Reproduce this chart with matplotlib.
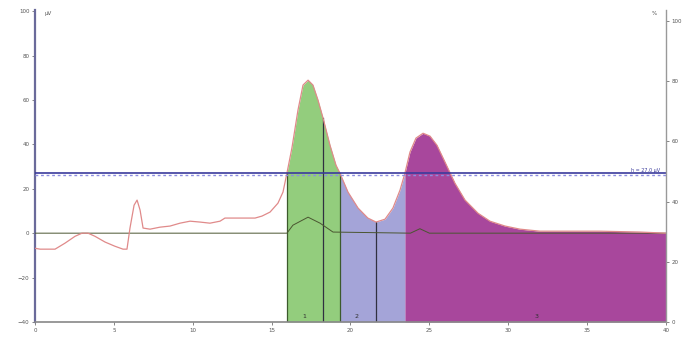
import matplotlib
matplotlib.use("Agg")
import matplotlib.pyplot as plt
import numpy as np

""" Data (read off the chromatogram) """
# time in minutes, signal in uV
t = [0.0, 0.32, 1.27, 1.9, 2.54, 2.98, 3.36, 3.8, 4.44, 5.07, 5.58, 5.83,
     6.02, 6.28, 6.47, 6.66, 6.85, 7.29, 7.92, 8.56, 9.19, 9.83, 10.46,
     11.09, 11.73, 12.04, 12.36, 13.95, 14.39, 14.9, 15.4, 15.72, 15.97,
     16.29, 16.67, 16.99, 17.31, 17.62, 17.94, 18.26, 18.7, 19.08, 19.33,
     19.84, 20.48, 21.1, 21.62, 22.19, 22.69, 23.14, 23.45, 23.77, 24.15,
     24.6, 25.04, 25.48, 25.99, 26.62, 27.26, 28.08, 28.84, 29.8, 30.75,
     32.0, 35.8, 38.35, 40.0]
signal = [-6.8, -7.2, -7.2, -4.5, -1.4, 0.0, 0.0, -1.4, -4.0, -5.9, -7.2, -7.2,
          2.3, 12.6, 14.9, 10.4, 2.3, 1.8, 2.7, 3.2, 4.5, 5.4, 5.0,
          4.5, 5.4, 6.8, 6.8, 6.8, 7.7, 9.5, 13.5, 18.5, 27.0,
          38.5, 55.4, 66.7, 68.9, 66.7, 59.9, 51.8, 39.6, 30.6, 27.0,
          18.5, 11.3, 6.8, 5.0, 6.3, 11.3, 19.4, 27.0, 36.5, 42.8,
          45.0, 43.7, 39.6, 32.0, 22.5, 14.9, 9.0, 5.4, 3.2, 1.8,
          0.9, 0.9, 0.5, 0.0]

# second trace (thin dark line)
t2 = [0.0, 15.97, 16.35, 17.31, 18.07, 18.89, 23.8, 24.4, 25.0, 40.0]
trace2 = [0.0, 0.0, 3.6, 7.2, 4.5, 0.5, 0.0, 2.0, 0.0, 0.0]

threshold = 27.0
threshold_label = "h = 27.0 \u00b5V"

# peak windows (start, apex split, end) and labels
regions = [(15.97, 19.33), (19.33, 23.45), (23.45, 40.0)]
region_colors = ["#93cd7d", "#a4a4d8", "#a8479c"]
splits = [18.26, 21.62]
peak_names = ["1", "2", "3"]
peak_pos = [17.1, 20.4, 31.8]

x_ticks = [0, 5, 10, 15, 20, 25, 30, 35, 40]
y_ticks = [-40, -20, 0, 20, 40, 60, 80, 100]
y2_ticks = [0, 20, 40, 60, 80, 100]

""" Plot """
t = np.array(t)
signal = np.array(signal)

fig = plt.figure(figsize=(6.92, 3.45), dpi=100)
ax = fig.add_axes([0.0506, 0.0667, 0.9118, 0.9043])
ax.set_xlim(0, 40)
ax.set_ylim(-40, 100.5)

for (a, b), c in zip(regions, region_colors):
    m = (t >= a) & (t <= b)
    ax.fill_between(t[m], -40, signal[m], color=c, lw=0, zorder=1)

for x in [regions[0][0], regions[0][1]]:
    ax.plot([x, x], [-40, np.interp(x, t, signal)], color="#3c5a2c", lw=0.9, zorder=2)
for x in splits:
    ax.plot([x, x], [-40, np.interp(x, t, signal)], color="#303040", lw=0.9, zorder=2)

ax.plot(t2, trace2, color="#4a5530", lw=0.7, zorder=3)
ax.plot(t, signal, color="#e08a8a", lw=0.9, zorder=4)

ax.axhline(threshold - 0.7, color="#8c8ce0", lw=1.0, ls=(0, (2, 2)), zorder=5)
ax.axhline(threshold, color="#3b3b9c", lw=1.2, zorder=5)
ax.text(39.6, threshold + 0.3, threshold_label, fontsize=3.5, color="#3b3b9c",
        ha="right", va="bottom")

for name, x in zip(peak_names, peak_pos):
    ax.text(x, -38.5, name, fontsize=4.5, color="#303030", ha="center", va="bottom")

ax.set_xticks(x_ticks)
ax.set_yticks(y_ticks)
ax.tick_params(labelsize=4, length=2, width=0.5, colors="#555555", pad=2)
for s in ["top", "right"]:
    ax.spines[s].set_visible(False)
ax.spines["left"].set_color("#6a6a9a")
ax.spines["left"].set_linewidth(1.6)
ax.spines["bottom"].set_color("#888888")
ax.spines["bottom"].set_linewidth(1.2)
ax.text(0.6, 99, "\u00b5V", fontsize=4, color="#555555", va="center")

ax2 = ax.twinx()
ax2.set_ylim(0, 103.7)
ax2.set_yticks(y2_ticks)
ax2.tick_params(labelsize=4, length=2, width=0.5, colors="#555555", pad=2)
for s in ["top", "left", "bottom"]:
    ax2.spines[s].set_visible(False)
ax2.spines["right"].set_color("#999999")
ax2.spines["right"].set_linewidth(1.0)
ax2.text(39.4, 102.5, "%", fontsize=4, color="#555555", ha="right", va="center")

fig.savefig("out.png", dpi=100)
